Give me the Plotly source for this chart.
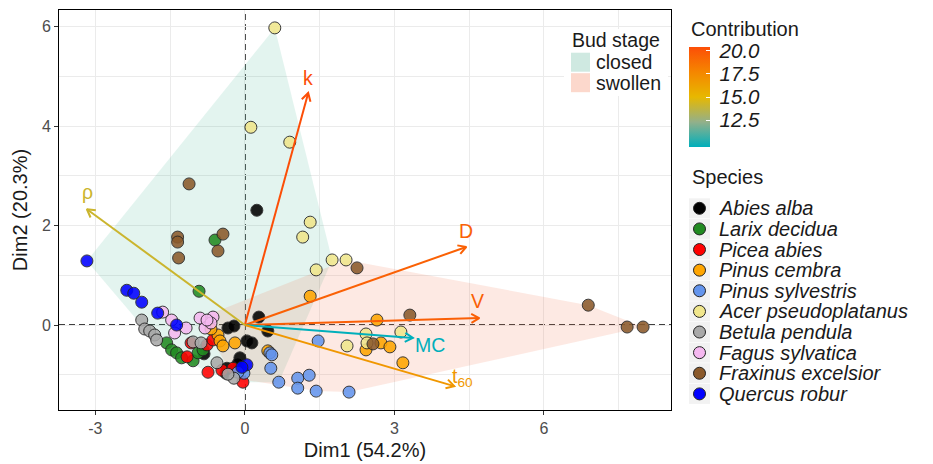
import math
import plotly.graph_objects as go
from plotly.colors import sample_colorscale

# ------------------------------------------------------------------ data
SPECIES = ["Abies alba", "Larix decidua", "Picea abies", "Pinus cembra",
           "Pinus sylvestris", "Acer pseudoplatanus", "Betula pendula",
           "Fagus sylvatica", "Fraxinus excelsior", "Quercus robur"]
SPECIES_COLORS = ["#000000", "#228B22", "#FF0000", "#FFA500", "#6495ED",
                  "#F0E68C", "#A9A9A9", "#F5B8F0", "#8B5A2B", "#0000FF"]

ABIES_X = [0.24, 0.28, 0.46, -0.34, -0.22, 0.04, 0.14, -0.82, -0.10, -0.14, -0.36, -0.38]
ABIES_Y = [2.31, 0.16, -0.12, -0.06, -0.02, -0.32, -0.36, -0.58, -0.66, -0.78, -0.87, -0.97]
ABIES_STAGE = ["c", "s", "s", "c", "s", "s", "s", "c", "c", "s", "c", "c"]

LARIX_X = [-0.60, -0.92, -1.57, -1.47, -1.37, -1.27, -1.04, -0.94, -0.84]
LARIX_Y = [1.71, 0.68, -0.36, -0.50, -0.56, -0.66, -0.72, -0.56, -0.50]
LARIX_STAGE = ["c", "c", "c", "c", "c", "c", "c", "c", "c"]

PICEA_X = [-1.08, -1.16, -0.76, -0.74, -0.46, -0.24, -0.04, -0.64]
PICEA_Y = [-0.36, -0.64, -0.40, -0.95, -0.91, -0.87, -1.15, -0.30]
PICEA_STAGE = ["c", "c", "c", "c", "c", "s", "c", "c"]

CEMBRA_X = [-0.54, -0.50, -0.44, -0.20, -0.68, 0.46, 1.31, 2.65, 2.43, 2.73, 2.91, 3.17]
CEMBRA_Y = [-0.20, -0.32, -0.42, -0.36, -0.08, -0.52, 0.58, 0.10, -0.50, -0.36, -0.44, -0.76]
CEMBRA_STAGE = ["s", "s", "s", "s", "c", "s", "s", "s", "s", "s", "s", "s"]

SYLV_X = [1.47, 0.50, 0.52, 0.68, 1.06, 1.29, 1.06, 1.43, 2.09, -0.02, -0.14, 0.54]
SYLV_Y = [-0.32, -0.56, -0.87, -1.15, -1.07, -1.01, -1.27, -1.33, -1.35, -0.97, -0.95, -0.60]
SYLV_STAGE = ["s", "s", "s", "c", "s", "s", "s", "s", "s", "s", "c", "s"]

ACER_X = [0.60, 0.12, 0.90, 1.31, 1.16, 1.75, 2.03, 1.43, 2.43, 2.45, 2.05, 3.13]
ACER_Y = [5.98, 3.98, 3.68, 2.07, 1.77, 1.31, 1.31, 1.11, -0.18, -0.36, -0.42, -0.14]
ACER_STAGE = ["c", "c", "c", "c", "c", "c", "s", "c", "s", "s", "s", "s"]

BETULA_X = [-2.07, -2.01, -1.91, -1.81, -1.77, -1.04, -0.88, -0.56, -0.22, -0.34]
BETULA_Y = [0.10, -0.08, -0.12, -0.20, -0.30, -0.34, -0.36, -0.76, -1.07, -0.99]
BETULA_STAGE = ["c", "c", "c", "c", "c", "c", "c", "c", "s", "c"]

FAGUS_X = [-1.65, -1.47, -1.41, -1.18, -0.90, -0.64, -0.80, -0.68, -0.76]
FAGUS_Y = [0.26, 0.10, -0.16, -0.06, 0.14, 0.16, -0.06, 0.04, 0.10]
FAGUS_STAGE = ["c", "c", "c", "c", "s", "s", "c", "s", "c"]

FRAXINUS_X = [-1.12, -1.35, -1.35, -0.44, -0.54, -1.33, 2.25, 6.89, 3.31, 7.67, 7.99, 2.57]
FRAXINUS_Y = [2.84, 1.77, 1.67, 1.83, 1.49, 1.35, 1.15, 0.40, 0.20, -0.04, -0.04, -0.38]
FRAXINUS_STAGE = ["c", "c", "c", "c", "c", "c", "s", "s", "s", "s", "s", "s"]

QUERCUS_X = [-3.17, -2.37, -2.23, -2.07, -1.75, -1.37, 0.04, -0.06]
QUERCUS_Y = [1.29, 0.70, 0.64, 0.46, 0.24, 0.00, -0.80, -0.85]
QUERCUS_STAGE = ["c", "c", "c", "c", "c", "c", "s", "s"]

STAGES = ["closed", "swollen"]
STAGE_CODES = ["c", "s"]

VAR_LABELS = ["k", "D", "V", "MC", "t<sub>60</sub>", "ρ"]
VAR_DIM1 = [1.27, 4.44, 4.70, 3.37, 4.20, -3.17]
VAR_DIM2 = [4.67, 1.57, 0.14, -0.26, -1.23, 2.33]
VAR_CONTRIB = [20.4, 19.5, 19.6, 9.6, 16.8, 14.1]

CONTRIB_TICKS = [12.5, 15.0, 17.5, 20.0]
X_TICKS = [-3, 0, 3, 6]
Y_TICKS = [0, 2, 4, 6]

# ------------------------------------------------------------------ style
FONT = "Liberation Sans, Arial, sans-serif"
WIN_W, WIN_H = 933, 464
PAGE_OFF = 8                      # default body margin of the html page
W, H = WIN_W - PAGE_OFF, WIN_H - PAGE_OFF
PLOT_L, PLOT_T, PLOT_R, PLOT_B = 59, 10, 671, 410   # panel in window pixels
PW, PH = PLOT_R - PLOT_L, PLOT_B - PLOT_T
ML, MT = PLOT_L - PAGE_OFF, PLOT_T - PAGE_OFF
MR, MB = W - ML - PW, H - MT - PH
XR = [-3.73, 8.55]
YR = [-1.71, 6.34]
SX = PW / (XR[1] - XR[0])
SY = PH / (YR[1] - YR[0])
CSCALE = [[0.0, "#00AFBB"], [0.25, "#93B08A"], [0.5, "#E7B800"],
          [0.75, "#F58600"], [1.0, "#FC4E07"]]
STAGE_FILL = ["rgba(60,180,140,0.14)", "rgba(240,110,70,0.15)"]
STAGE_KEY = ["#CFE9E1", "#FCD8CC"]
TXT = "#1a1a1a"


def pxx(p):
    return (p - PLOT_L) / PW


def pxy(p):
    return (PLOT_B - p) / PH


def convex_hull(pts):
    pts = sorted(set(pts))
    if len(pts) < 3:
        return pts

    def cross(o, a, b):
        return (a[0] - o[0]) * (b[1] - o[1]) - (a[1] - o[1]) * (b[0] - o[0])
    lower, upper = [], []
    for p in pts:
        while len(lower) >= 2 and cross(lower[-2], lower[-1], p) <= 0:
            lower.pop()
        lower.append(p)
    for p in reversed(pts):
        while len(upper) >= 2 and cross(upper[-2], upper[-1], p) <= 0:
            upper.pop()
        upper.append(p)
    return lower[:-1] + upper[:-1]


ALL_X = [ABIES_X, LARIX_X, PICEA_X, CEMBRA_X, SYLV_X, ACER_X, BETULA_X, FAGUS_X, FRAXINUS_X, QUERCUS_X]
ALL_Y = [ABIES_Y, LARIX_Y, PICEA_Y, CEMBRA_Y, SYLV_Y, ACER_Y, BETULA_Y, FAGUS_Y, FRAXINUS_Y, QUERCUS_Y]
ALL_S = [ABIES_STAGE, LARIX_STAGE, PICEA_STAGE, CEMBRA_STAGE, SYLV_STAGE, ACER_STAGE,
         BETULA_STAGE, FAGUS_STAGE, FRAXINUS_STAGE, QUERCUS_STAGE]

fig = go.Figure()

# hulls
for si, code in enumerate(STAGE_CODES):
    pts = []
    for xs, ys, ss in zip(ALL_X, ALL_Y, ALL_S):
        pts += [(x, y) for x, y, s in zip(xs, ys, ss) if s == code]
    hull = convex_hull(pts)
    hull.append(hull[0])
    fig.add_trace(go.Scatter(x=[p[0] for p in hull], y=[p[1] for p in hull],
                             mode="lines", fill="toself", fillcolor=STAGE_FILL[si],
                             line=dict(width=0), hoverinfo="skip", showlegend=False))

# points
for name, col, xs, ys in zip(SPECIES, SPECIES_COLORS, ALL_X, ALL_Y):
    fig.add_trace(go.Scatter(x=xs, y=ys, mode="markers", name=name, showlegend=False,
                             marker=dict(size=12, color=col, opacity=0.88,
                                         line=dict(color="#222222", width=1))))

# colour bar carriers (one with labels, one on top with white inside ticks)
cmin, cmax = min(VAR_CONTRIB), max(VAR_CONTRIB)
cb_base = dict(thickness=21, thicknessmode="pixels", len=100, lenmode="pixels",
               x=pxx(689), xanchor="left", y=pxy(47), yanchor="top",
               xpad=0, ypad=0, outlinewidth=0, tickvals=CONTRIB_TICKS)
fig.add_trace(go.Scatter(
    x=VAR_DIM1, y=VAR_DIM2, mode="markers", showlegend=False, hoverinfo="skip",
    marker=dict(size=1, color=VAR_CONTRIB, colorscale=CSCALE, cmin=cmin, cmax=cmax,
                showscale=True,
                colorbar=dict(**cb_base, ticks="outside", ticklen=6,
                              tickcolor="rgba(0,0,0,0)",
                              ticktext=["<i>%.1f</i>" % v for v in CONTRIB_TICKS],
                              tickfont=dict(size=20.5, color=TXT, family=FONT)))))
fig.add_trace(go.Scatter(
    x=VAR_DIM1, y=VAR_DIM2, mode="markers", showlegend=False, hoverinfo="skip",
    marker=dict(size=1, color=VAR_CONTRIB, colorscale=CSCALE, cmin=cmin, cmax=cmax,
                showscale=True,
                colorbar=dict(**cb_base, ticks="inside", ticklen=4, tickwidth=1.2,
                              tickcolor="white", showticklabels=False))))

# variable arrows
var_cols = sample_colorscale(CSCALE, [(v - cmin) / (cmax - cmin) for v in VAR_CONTRIB])
HEAD = 9.0
for xt, yt, col in zip(VAR_DIM1, VAR_DIM2, var_cols):
    ang = math.atan2(yt * SY, xt * SX)
    hx, hy = [], []
    for s in (-1, 1):
        a = ang + math.pi + s * math.radians(30)
        hx.append(xt + HEAD * math.cos(a) / SX)
        hy.append(yt + HEAD * math.sin(a) / SY)
    fig.add_trace(go.Scatter(x=[0, xt, None, hx[0], xt, hx[1]],
                             y=[0, yt, None, hy[0], yt, hy[1]],
                             mode="lines", line=dict(color=col, width=2),
                             hoverinfo="skip", showlegend=False))

LABEL_SHIFT = {"k": (0, 15), "D": (0, 16), "V": (-2, 17), "MC": (17, -7),
               "t<sub>60</sub>": (8, 9), "ρ": (1, 17)}
annotations = []
for lab, xt, yt, col in zip(VAR_LABELS, VAR_DIM1, VAR_DIM2, var_cols):
    dx, dy = LABEL_SHIFT[lab]
    annotations.append(dict(x=xt, y=yt, xref="x", yref="y", text=lab, showarrow=False,
                            xshift=dx, yshift=dy, font=dict(size=19.5, color=col, family=FONT)))

shapes = [
    dict(type="line", xref="x", yref="paper", x0=0, x1=0, y0=0, y1=1, layer="between",
         line=dict(color="black", width=1.6, dash="6px,4px")),
    dict(type="line", xref="paper", yref="y", x0=0, x1=1, y0=0, y1=0, layer="between",
         line=dict(color="black", width=1.6, dash="6px,4px")),
]

# colour bar title
annotations.append(dict(x=pxx(689), y=pxy(28.5), xref="paper", yref="paper", text="Contribution",
                        xanchor="left", yanchor="middle", showarrow=False,
                        font=dict(size=20, color=TXT, family=FONT)))

# species legend
annotations.append(dict(x=pxx(690), y=pxy(177), xref="paper", yref="paper", text="Species",
                        xanchor="left", yanchor="middle", showarrow=False,
                        font=dict(size=20, color=TXT, family=FONT)))
for i, (name, col) in enumerate(zip(SPECIES, SPECIES_COLORS)):
    cy = 208.3 + i * 20.62
    shapes.append(dict(type="rect", xref="paper", yref="paper", x0=pxx(689), x1=pxx(710),
                       y0=pxy(cy - 10), y1=pxy(cy + 10), fillcolor="#F2F2F2",
                       line=dict(width=0), layer="above"))
    shapes.append(dict(type="circle", xref="paper", yref="paper", x0=pxx(699.5 - 6),
                       x1=pxx(699.5 + 6), y0=pxy(cy - 6), y1=pxy(cy + 6),
                       fillcolor=col, line=dict(color="#222222", width=1), layer="above"))
    annotations.append(dict(x=pxx(717), y=pxy(cy), xref="paper", yref="paper",
                            text="<i>%s</i>" % name, xanchor="left", yanchor="middle",
                            showarrow=False, font=dict(size=20, color=TXT, family=FONT)))

# bud stage legend (inside panel)
shapes.append(dict(type="rect", xref="paper", yref="paper", x0=pxx(564), x1=pxx(668),
                   y0=pxy(96), y1=pxy(29), fillcolor="white", line=dict(width=0), layer="above"))
annotations.append(dict(x=pxx(570), y=pxy(40), xref="paper", yref="paper", text="Bud stage",
                        xanchor="left", yanchor="middle", showarrow=False,
                        font=dict(size=19.5, color=TXT, family=FONT)))
for i, (st, kc) in enumerate(zip(STAGES, STAGE_KEY)):
    cy = 62.2 + i * 20.5
    shapes.append(dict(type="rect", xref="paper", yref="paper", x0=pxx(571), x1=pxx(590),
                       y0=pxy(cy - 9.5), y1=pxy(cy + 9.5), fillcolor=kc,
                       line=dict(width=0), layer="above"))
    annotations.append(dict(x=pxx(594), y=pxy(cy), xref="paper", yref="paper", text=st,
                            xanchor="left", yanchor="middle", showarrow=False,
                            font=dict(size=19.5, color=TXT, family=FONT)))

axis_common = dict(showline=True, mirror=True, linecolor="black", linewidth=1,
                   showgrid=True, gridcolor="#EBEBEB", gridwidth=1, zeroline=False,
                   ticks="outside", ticklen=4, tickcolor="#333333", tickwidth=1,
                   tickfont=dict(size=16, color="#4D4D4D", family=FONT))

fig.update_layout(
    width=W, height=H, margin=dict(l=ML, r=MR, t=MT, b=MB, autoexpand=False),
    paper_bgcolor="white", plot_bgcolor="white", showlegend=False,
    font=dict(family=FONT, color=TXT),
    xaxis=dict(range=XR, tickvals=X_TICKS, ticktext=[str(v) for v in X_TICKS],
               minor=dict(dtick=1.5, tick0=0, showgrid=True, gridcolor="#EBEBEB", gridwidth=0.7, ticks=""),
               title=dict(text="Dim1 (54.2%)", standoff=6, font=dict(size=20, color=TXT)),
               **axis_common),
    yaxis=dict(range=YR, tickvals=Y_TICKS, ticktext=[str(v) for v in Y_TICKS],
               minor=dict(dtick=1, tick0=0, showgrid=True, gridcolor="#EBEBEB", gridwidth=0.7, ticks=""),
               title=dict(text="Dim2 (20.3%)", standoff=8, font=dict(size=20, color=TXT)),
               **axis_common),
    shapes=shapes, annotations=annotations,
)

fig.write_html("out.html")
